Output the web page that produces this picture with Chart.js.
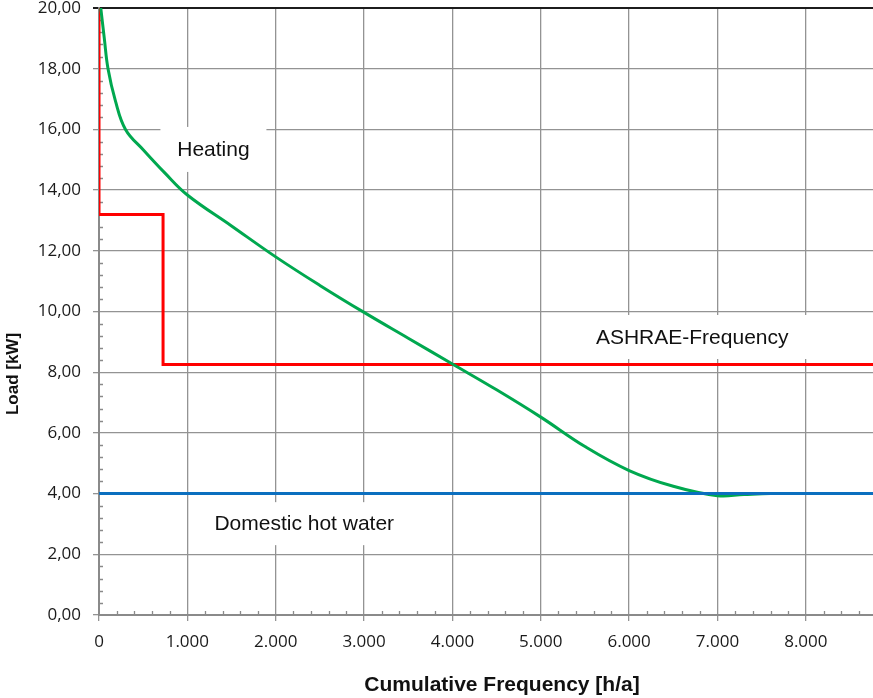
<!DOCTYPE html>
<html>
<head>
<meta charset="utf-8">
<title>Load duration curve</title>
<script src="https://cdn.jsdelivr.net/npm/chart.js@4.4.1/dist/chart.umd.min.js"></script>
<style>
    html, body { margin: 0; padding: 0; background: #fff; }
    #wrap { position: relative; width: 873px; height: 698px; }
</style>
</head>
<body>
<div id="wrap"><canvas id="load-chart"></canvas></div>
<script>
// ---- Data ----
const heatingHours = [20, 60, 102, 185, 300, 500, 750, 1000, 1500, 2000, 2500, 3000, 3500, 4000, 4500, 5000, 5500, 6000, 6500, 7000, 7300, 7600, 8760];
const heatingLoad = [20.0, 19.0, 18.0, 16.95, 16.0, 15.33, 14.55, 13.84, 12.82, 11.80, 10.86, 9.97, 9.12, 8.27, 7.42, 6.52, 5.55, 4.76, 4.24, 3.93, 3.97, 4.0, 4.0];

const ashraeHours = [0, 0, 725, 725, 8760];
const ashraeLoad = [20, 13.2, 13.2, 8.25, 8.25];

const dhwHours = [0, 8760];
const dhwLoad = [4, 4];

const xTickValues = [0, 1000, 2000, 3000, 4000, 5000, 6000, 7000, 8000];
const yTickValues = [0, 2, 4, 6, 8, 10, 12, 14, 16, 18, 20];

const seriesNames = ['Heating', 'ASHRAE-Frequency', 'Domestic hot water'];

// ---- Layout / styles ----
const GRID = '#939393';
const AXIS = '#8a8a8a';
const TICK_FONT = { family: '"Open Sans", sans-serif', size: 17 };

// label boxes, anchored in data units, size in px
const labelBoxes = [
    { text: seriesNames[0], x: 1295, y: 15.34, w: 106, h: 45 },
    { text: seriesNames[1], x: 6714, y: 9.16, w: 237, h: 44 },
    { text: seriesNames[2], x: 2323, y: 3.01, w: 219, h: 43 }
];

const toPoints = function (xs, ys) {
    return xs.map((v, i) => ({ x: v, y: ys[i] }));
};

const thousands = function (v) {
    return String(v).replace(/\B(?=(\d{3})+(?!\d))/g, '.');
};

// white boxes with the series names
const boxLabels = {
    id: 'boxLabels',
    beforeDatasetsDraw(chart) {
        const { ctx, scales } = chart;
        ctx.save();
        ctx.font = '21px "Liberation Sans", Arial, sans-serif';
        ctx.textAlign = 'center';
        ctx.textBaseline = 'middle';
        labelBoxes.forEach(b => {
            const cx = scales.x.getPixelForValue(b.x);
            const cy = scales.y.getPixelForValue(b.y);
            ctx.fillStyle = '#ffffff';
            ctx.fillRect(cx - b.w / 2, cy - b.h / 2, b.w, b.h);
            ctx.fillStyle = '#111111';
            ctx.fillText(b.text, cx, cy + 1);
        });
        ctx.restore();
    }
};

// small inside ticks between the major ones
const minorTicks = {
    id: 'minorTicks',
    beforeDatasetsDraw(chart) {
        const { ctx, chartArea, scales } = chart;
        ctx.save();
        ctx.strokeStyle = AXIS;
        ctx.lineWidth = 1.3;
        ctx.beginPath();
        for (let h = 200; h < 8760; h += 200) {
            if (h % 1000 === 0) continue;
            const px = Math.round(scales.x.getPixelForValue(h)) + 0.5;
            ctx.moveTo(px, chartArea.bottom);
            ctx.lineTo(px, chartArea.bottom - 4);
        }
        for (let k = 1; k < 50; k++) {
            if (k % 5 === 0) continue;
            const py = Math.round(scales.y.getPixelForValue(k * 0.4)) + 0.5;
            ctx.moveTo(chartArea.left, py);
            ctx.lineTo(chartArea.left + 4, py);
        }
        ctx.stroke();
        ctx.restore();
    }
};

// axis titles (Excel puts them slightly off-centre)
const axisTitles = {
    id: 'axisTitles',
    afterDraw(chart) {
        const { ctx, chartArea } = chart;
        ctx.save();
        ctx.fillStyle = '#111111';
        ctx.textAlign = 'center';
        ctx.textBaseline = 'middle';
        ctx.font = 'bold 21px "Liberation Sans", Arial, sans-serif';
        ctx.fillText('Cumulative Frequency [h/a]', chartArea.left + 403, 685);
        ctx.translate(13, chartArea.top + 366);
        ctx.rotate(-Math.PI / 2);
        ctx.font = 'bold 17px "Liberation Sans", Arial, sans-serif';
        ctx.fillText('Load [kW]', 0, 0);
        ctx.restore();
    }
};

const el = document.getElementById('load-chart');
new Chart(el.getContext('2d'), {
    type: 'line',
    data: {
        datasets: [{
            label: seriesNames[2],
            data: toPoints(dhwHours, dhwLoad),
            borderColor: '#0b6fbf',
            borderWidth: 3,
            pointRadius: 0,
            order: 0
        }, {
            label: seriesNames[0],
            data: toPoints(heatingHours, heatingLoad),
            borderColor: '#00a84f',
            borderWidth: 3,
            pointRadius: 0,
            tension: 0.4,
            order: 1
        }, {
            label: seriesNames[1],
            data: toPoints(ashraeHours, ashraeLoad),
            borderColor: '#ff0000',
            borderWidth: 3,
            pointRadius: 0,
            tension: 0,
            order: 2
        }]
    },
    options: {
        responsive: true,
        maintainAspectRatio: false,
        animation: false,
        events: [],
        layout: { padding: { top: 8, left: 0, right: 0, bottom: 0 } },
        plugins: {
            legend: { display: false },
            tooltip: { enabled: false }
        },
        scales: {
            x: {
                type: 'linear',
                min: 0,
                max: 8760,
                afterBuildTicks: axis => { axis.ticks = xTickValues.map(v => ({ value: v })); },
                afterFit: axis => {
                    axis.height = 83;
                    axis.paddingLeft = 0;
                    axis.paddingRight = 0;
                },
                ticks: {
                    font: TICK_FONT,
                    color: '#1a1a1a',
                    padding: 11,
                    maxRotation: 0,
                    callback: v => thousands(v)
                },
                grid: { color: GRID, lineWidth: 1.3, tickLength: 6 },
                border: { color: AXIS, width: 2 }
            },
            y: {
                type: 'linear',
                min: 0,
                max: 20,
                afterBuildTicks: axis => { axis.ticks = yTickValues.map(v => ({ value: v })); },
                afterFit: axis => {
                    axis.width = 99;
                    axis.paddingTop = 0;
                    axis.paddingBottom = 0;
                },
                ticks: {
                    font: TICK_FONT,
                    color: '#1a1a1a',
                    padding: 12,
                    callback: v => v.toFixed(2).replace('.', ',')
                },
                grid: {
                    color: ctx => (ctx.tick && ctx.tick.value === 20 ? '#1c1c1c' : GRID),
                    lineWidth: ctx => (ctx.tick && ctx.tick.value === 20 ? 2 : 1.3),
                    tickLength: 6
                },
                border: { color: AXIS, width: 2 }
            }
        }
    },
    plugins: [boxLabels, minorTicks, axisTitles]
});
</script>
</body>
</html>
